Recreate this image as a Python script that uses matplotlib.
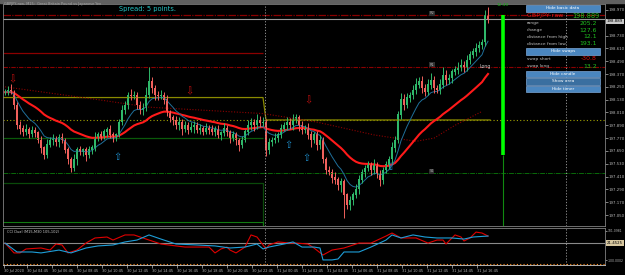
import numpy as np
import pandas as pd
import matplotlib
matplotlib.use("Agg")
from matplotlib import pyplot as plt
from matplotlib.patches import Rectangle

# GBPJPY M15 candles, 30 Jul 2020 -> 31 Jul 2020
first_open = 198.19
close = [
    198.20, 198.22, 198.20, 198.08, 197.89, 197.86, 197.83, 197.85, 197.81, 197.84,
    197.82, 197.75, 197.68, 197.61, 197.71, 197.75, 197.77, 197.73, 197.78, 197.75,
    197.66, 197.57, 197.49, 197.57, 197.66, 197.64, 197.66, 197.61, 197.66, 197.68,
    197.78, 197.80, 197.78, 197.83, 197.85, 197.80, 197.77, 197.80, 197.92, 198.03,
    198.08, 198.17, 198.16, 198.17, 198.08, 198.03, 198.05, 198.17, 198.30, 198.24,
    198.17, 198.16, 198.17, 198.13, 198.01, 197.96, 197.94, 197.89, 197.92, 197.86,
    197.89, 197.85, 197.87, 197.89, 197.85, 197.86, 197.83, 197.86, 197.85, 197.83,
    197.85, 197.80, 197.82, 197.86, 197.83, 197.77, 197.80, 197.75, 197.71, 197.75,
    197.83, 197.89, 197.92, 197.89, 197.94, 197.91, 197.92, 197.66, 197.73, 197.75,
    197.77, 197.80, 197.86, 197.89, 197.92, 197.89, 197.94, 197.96, 197.89, 197.85,
    197.86, 197.80, 197.75, 197.80, 197.71, 197.75, 197.57, 197.47, 197.45, 197.40,
    197.38, 197.33, 197.36, 197.24, 197.14, 197.19, 197.24, 197.29, 197.38, 197.45,
    197.49, 197.52, 197.47, 197.52, 197.43, 197.38, 197.47, 197.52, 197.57, 197.68,
    197.75, 197.99, 198.13, 198.08, 198.15, 198.17, 198.22, 198.27, 198.30, 198.24,
    198.20, 198.27, 198.31, 198.24, 198.22, 198.27, 198.36, 198.31, 198.33, 198.39,
    198.41, 198.43, 198.45, 198.43, 198.50, 198.55, 198.58, 198.61, 198.64, 198.67,
    198.92, 198.889,
]
# wick lengths in pips (0.01)
upper_wick = [
    3, 4, 6, 2, 3, 4, 3, 5, 2, 4,
    3, 2, 4, 2, 5, 3, 4, 2, 3, 4,
    2, 3, 2, 5, 3, 4, 2, 3, 4, 3,
    5, 3, 4, 3, 2, 4, 3, 2, 3, 5,
    4, 3, 6, 4, 3, 4, 5, 8, 14, 4,
    3, 4, 5, 3, 4, 2, 3, 4, 5, 3,
    4, 3, 5, 4, 3, 4, 2, 5, 3, 4,
    3, 4, 2, 5, 3, 2, 4, 3, 2, 4,
    3, 5, 4, 3, 6, 4, 5, 3, 4, 3,
    5, 3, 4, 3, 5, 4, 6, 4, 3, 4,
    3, 5, 4, 3, 4, 5, 3, 2, 4, 3,
    5, 3, 4, 3, 2, 4, 3, 5, 4, 3,
    3, 4, 3, 5, 3, 4, 3, 4, 3, 5,
    4, 3, 6, 5, 4, 3, 5, 6, 4, 5,
    4, 5, 7, 4, 3, 5, 8, 5, 4, 3,
    4, 5, 6, 4, 5, 4, 3, 5, 4, 3,
    5, 8,
]
lower_wick = [
    2, 3, 2, 4, 3, 5, 4, 3, 4, 3,
    4, 3, 5, 4, 3, 2, 4, 3, 4, 3,
    3, 4, 4, 3, 5, 3, 4, 5, 3, 4,
    3, 4, 3, 2, 5, 3, 4, 3, 2, 3,
    3, 4, 3, 2, 4, 3, 4, 3, 2, 5,
    4, 3, 2, 4, 3, 4, 5, 3, 4, 6,
    3, 4, 2, 5, 3, 4, 3, 2, 4, 3,
    4, 3, 5, 3, 4, 5, 3, 4, 6, 3,
    2, 3, 4, 5, 3, 4, 3, 6, 4, 3,
    3, 4, 3, 2, 4, 3, 4, 3, 5, 4,
    3, 4, 6, 3, 5, 4, 3, 4, 3, 5,
    4, 5, 6, 22, 3, 4, 5, 3, 4, 3,
    4, 3, 5, 4, 3, 6, 4, 3, 4, 3,
    4, 3, 4, 5, 3, 4, 3, 4, 3, 5,
    4, 3, 4, 5, 3, 4, 3, 4, 3, 4,
    3, 4, 3, 4, 3, 4, 3, 4, 3, 4,
    4, 4,
]

# long moving average (dotted), read at a few bars
long_ma_x = [0, 31, 48, 67, 86, 104, 123, 137, 143, 150, 159]
long_ma = [198.25, 198.13, 198.06, 198.03, 198.00, 197.92, 197.80, 197.74, 197.77, 197.89, 198.02]

# signal arrows
sell_x = [2.6, 61.5, 101]
sell_y = [198.27, 198.16, 198.08]
buy_x = [37.5, 94.4, 100.3, 128.3]
buy_y = [197.64, 197.75, 197.63, 197.55]

# pivot / range levels
r2 = 198.92
bid = 198.889
prev_top = 198.57
r1 = 198.44
prev_olive = 198.15
pivot = 197.94
prev_green1 = 197.77
s1 = 197.44
prev_green2 = 197.35
prev_bottom = 196.98

# CCI dual (two series)
cci_red_x = [0, 3, 5, 7, 12, 15, 17, 19, 21, 24, 27, 30, 34, 36, 40, 43, 48, 52, 57, 60,
             64, 68, 70, 72, 74, 75, 77, 80, 82, 84, 86, 87, 88, 91, 95, 97, 101, 103, 106, 109,
             113, 118, 122, 127, 129, 132, 137, 141, 144, 146, 147, 150, 152, 153, 155, 157, 159, 161]
cci_red = [19, -43, -43, -18, -12, -25, 13, 7, -43, -25, 19, 51, 57, 38, 70, 70, 38, 13, 1, -6,
           -6, -6, -43, -18, -6, -25, -43, -6, 70, 57, 7, -18, 7, 26, 19, 19, 13, -12, -56, -25,
           -12, 19, 19, 63, 82, 51, 51, 19, 38, 38, 13, 70, 57, 32, 51, 88, 82, 63]
cci_blue_x = [0, 4, 9, 12, 18, 22, 27, 31, 36, 40, 44, 48, 52, 57, 64, 70, 75, 80, 84, 86,
              88, 93, 96, 99, 103, 105, 106, 109, 111, 113, 118, 122, 127, 129, 132, 136, 140, 144, 149, 153,
              156, 161]
cci_blue = [19, -37, -37, -43, -25, -43, -12, 1, 7, 26, 38, 70, 44, 13, 7, 1, -12, -6, 13, -18,
            -6, 13, 26, -6, -6, -12, -87, -87, -81, -37, -37, -6, 38, 70, 51, 70, 57, 51, 51, 44,
            57, 63]

x_labels = ["30 Jul 2020", "30 Jul 04:45", "30 Jul 06:45", "30 Jul 08:45", "30 Jul 10:45",
            "30 Jul 12:45", "30 Jul 14:45", "30 Jul 16:45", "30 Jul 18:45", "30 Jul 20:45",
            "30 Jul 22:45", "31 Jul 00:45", "31 Jul 02:45", "31 Jul 04:45", "31 Jul 06:45",
            "31 Jul 08:45", "31 Jul 10:45", "31 Jul 12:45", "31 Jul 14:45", "31 Jul 16:45"]

info_rows = [("range", "205.2"), ("change", "127.6"), ("distance from high", "12.1"),
             ("distance from low", "193.1")]
swap_rows = [("swap short", "-30.8", "#e01010"), ("swap long", "13.2", "#20c020")]

# ---------------------------------------------------------------
W, H = 625, 275
BG = "black"
GRID = "#808080"
TXT = "#b8b8b8"

close_a = np.array(close)
open_a = np.concatenate([[first_open], close_a[:-1]])
hi = np.maximum(open_a, close_a) + np.array(upper_wick) / 100.0
lo = np.minimum(open_a, close_a) - np.array(lower_wick) / 100.0
idx = np.arange(len(close_a))
bull = close_a >= open_a

ema_fast = pd.Series(close_a).ewm(span=9, adjust=False).mean()
ema_slow = pd.Series(close_a).ewm(span=30, adjust=False).mean()

fig = plt.figure(figsize=(W / 100, H / 100), dpi=100)
fig.patch.set_facecolor(BG)

XL = (-0.67, 200)
ax = fig.add_axes([3 / W, (H - 226) / H, 602 / W, 222 / H])
ax.set_facecolor(BG)
ax.set_xlim(*XL)
ax.set_ylim(196.947, 199.026)

# level lines
ax.axhline(r2, color="#8b0000", lw=0.9, ls=(0, (6, 1, 1, 1)))
ax.axhline(bid, color="#9a9a9a", lw=0.8)
ax.hlines(prev_top, XL[0], 86, color="#8b0000", lw=0.9)
ax.axhline(r1, color="#8b0000", lw=0.8, ls=(0, (4, 1, 1, 1)))
ax.axhline(pivot, color="#a0a000", lw=0.8, ls=(0, (1, 2)))
ax.plot([XL[0], 86, 87, 161.7], [prev_olive, prev_olive, pivot, pivot], color="#8a8a00", lw=0.9)
ax.hlines(prev_green1, XL[0], 86, color="#0a5a0a", lw=0.9)
ax.axhline(s1, color="#0a6a0a", lw=0.7, ls=(0, (5, 1, 1, 1)))
ax.plot([XL[0], 86, 86], [prev_green2, prev_green2, 196.947], color="#0a4a0a", lw=0.9)
ax.plot([XL[0], 86, 86], [prev_bottom, prev_bottom, 196.947], color="#127a12", lw=0.8)

for lvl, name in [(r2, "R2"), (r1, "R1"), (s1, "S1")]:
    ax.text(141.5, lvl, name, color="#a8a8a8", fontsize=2.6, va="bottom", ha="left",
            bbox=dict(boxstyle="square,pad=0.1", fc="#303030", ec="none"))

# day separators
for px in (265, 566):
    ax.axvline((px - 5) / 3.0, color="#a0a0a0", lw=0.6, ls=(0, (1.5, 2)))

# moving averages
ax.plot(long_ma_x, long_ma, color="#8b0000", lw=0.8, ls=(0, (1, 1.5)))
ax.plot(idx, ema_slow, color="#ff1a1a", lw=1.5)
ax.plot(idx, ema_fast, color="#1f6f9a", lw=0.7)

# candles
col = np.where(bull, "#2fb86a", "#f0605c")
ax.vlines(idx, lo, hi, colors=col, lw=0.7)
ax.bar(idx, np.abs(close_a - open_a) + 0.004, bottom=np.minimum(open_a, close_a),
       width=0.8, color=col, linewidth=0)

# arrows
for x, y in zip(sell_x, sell_y):
    ax.text(x, y, "\u21e9", color="#c01010", fontsize=7, ha="center", va="bottom")
for x, y in zip(buy_x, buy_y):
    ax.text(x, y, "\u21e7", color="#1e8cc8", fontsize=7, ha="center", va="top")
ax.text(158, 198.44, "Long", color="#c8c8c8", fontsize=3.4, ha="left", va="center")

# timer bar
tx = (503 - 5) / 3.0
ax.vlines(tx, 197.61, 198.92, color="#00ff00", lw=2.6)
ax.vlines(tx, 196.947, 197.61, color="#108a10", lw=0.8)

ax.yaxis.tick_right()
yt = np.round(197.05 + 0.12 * np.arange(17), 3)
yt = yt[np.abs(yt - bid) > 0.06]  # the current-price box covers this one
ax.set_yticks(yt)
ax.set_yticklabels([f"{v:.3f}" for v in yt])
ax.tick_params(axis="y", colors=TXT, labelsize=2.8, length=2, width=0.5, pad=0.5)
ax.set_xticks([])
for s in ax.spines.values():
    s.set_color(GRID)
    s.set_linewidth(0.6)

# CCI panel
cax = fig.add_axes([3 / W, (H - 265) / H, 602 / W, 37 / H])
cax.set_facecolor(BG)
cax.set_xlim(*XL)
cax.set_ylim(-118.8, 113.6)
cax.axhline(21.45, color="#8a8a8a", lw=0.8)
for px in (265, 566):
    cax.axvline((px - 5) / 3.0, color="#a0a0a0", lw=0.6, ls=(0, (1.5, 2)))
cax.plot(cci_red_x, cci_red, color="#e00000", lw=0.8)
cax.plot(cci_blue_x, cci_blue, color="#1e9ed8", lw=0.8)
cax.axhline(-112, color="#ff8c1a", lw=0.8, ls=(0, (1, 2)))
cax.text(0.5, 100, "CCI Dual (M15,M30 105,102)", color="#c8c8c8", fontsize=2.6, va="top")
cax.yaxis.tick_right()
cax.set_yticks([95.0, -90.0])
cax.set_yticklabels(["101.0981", "-100.0002"])
cax.tick_params(axis="y", colors=TXT, labelsize=2.2, length=1.5, width=0.5, pad=0.4)
xt = [-0.3] + [7.33 + 8.33 * k for k in range(len(x_labels) - 1)]
cax.set_xticks(xt)
cax.set_xticklabels(x_labels)
cax.tick_params(axis="x", colors=TXT, labelsize=2.5, length=2, width=0.5, pad=1)
for lbl in cax.get_xticklabels():
    lbl.set_ha("left")
for s in cax.spines.values():
    s.set_color(GRID)
    s.set_linewidth(0.6)
cax.spines["bottom"].set_color("#d0d0d0")

# overlay in pixel space: title, spread, info panel
ov = fig.add_axes([0, 0, 1, 1])
ov.set_xlim(0, W)
ov.set_ylim(H, 0)
ov.axis("off")
ov.patch.set_alpha(0)
ov.set_zorder(10)

ov.add_patch(Rectangle((0, 0), W, 2.5, color="#606060"))
ov.text(4, 4.5, "GBPJPY,raw, M15:  Great Britain Pound vs Japanese Yen", color="#a8a8a8",
        fontsize=2.5, va="center")
ov.text(119, 9.5, "Spread: 5 points.", color="#25c4c4", fontsize=4.8, va="center")
ov.text(503, 4.5, "12:40", color="#12b012", fontsize=3.2, ha="center", va="center")


def button(y, label, fc="#4a86bf"):
    ov.add_patch(Rectangle((526, y), 74, 6.5, fc=fc, ec="#7aa6d6", lw=0.5))
    ov.text(563, y + 3.4, label, color="white", fontsize=3.1, ha="center", va="center")


button(5, "Hide basic data")
ov.text(527, 16, "GBPJPY raw", color="#e01818", fontsize=4.6, va="center")
ov.text(600, 16, "198.889", color="#20c020", fontsize=4.8, ha="right", va="center")
for k, (name, val) in enumerate(info_rows):
    yy = 23.3 + 6.8 * k
    ov.text(527, yy, name, color="#c0c0c0", fontsize=3.2, va="center")
    ov.text(597, yy, val, color="#20c020", fontsize=4.4, ha="right", va="center")
button(48, "Hide swaps")
for k, (name, val, c) in enumerate(swap_rows):
    yy = 59 + 7 * k
    ov.text(527, yy, name, color="#c0c0c0", fontsize=3.2, va="center")
    ov.text(597, yy, val, color=c, fontsize=4.4, ha="right", va="center")
button(70.5, "Hide candle")
button(78, "Show area", fc="#3a6fa0")
button(85.5, "Hide timer")

ov.text(607, 21.5, "198.889", color="black", fontsize=2.8, va="center",
        bbox=dict(boxstyle="square,pad=0.15", fc="#c8c8c8", ec="none"))
ov.text(607, 243, "21.4525", color="black", fontsize=2.8, va="center",
        bbox=dict(boxstyle="square,pad=0.15", fc="#d8c8a0", ec="none"))

fig.savefig("out.png", dpi=100, facecolor=BG)
